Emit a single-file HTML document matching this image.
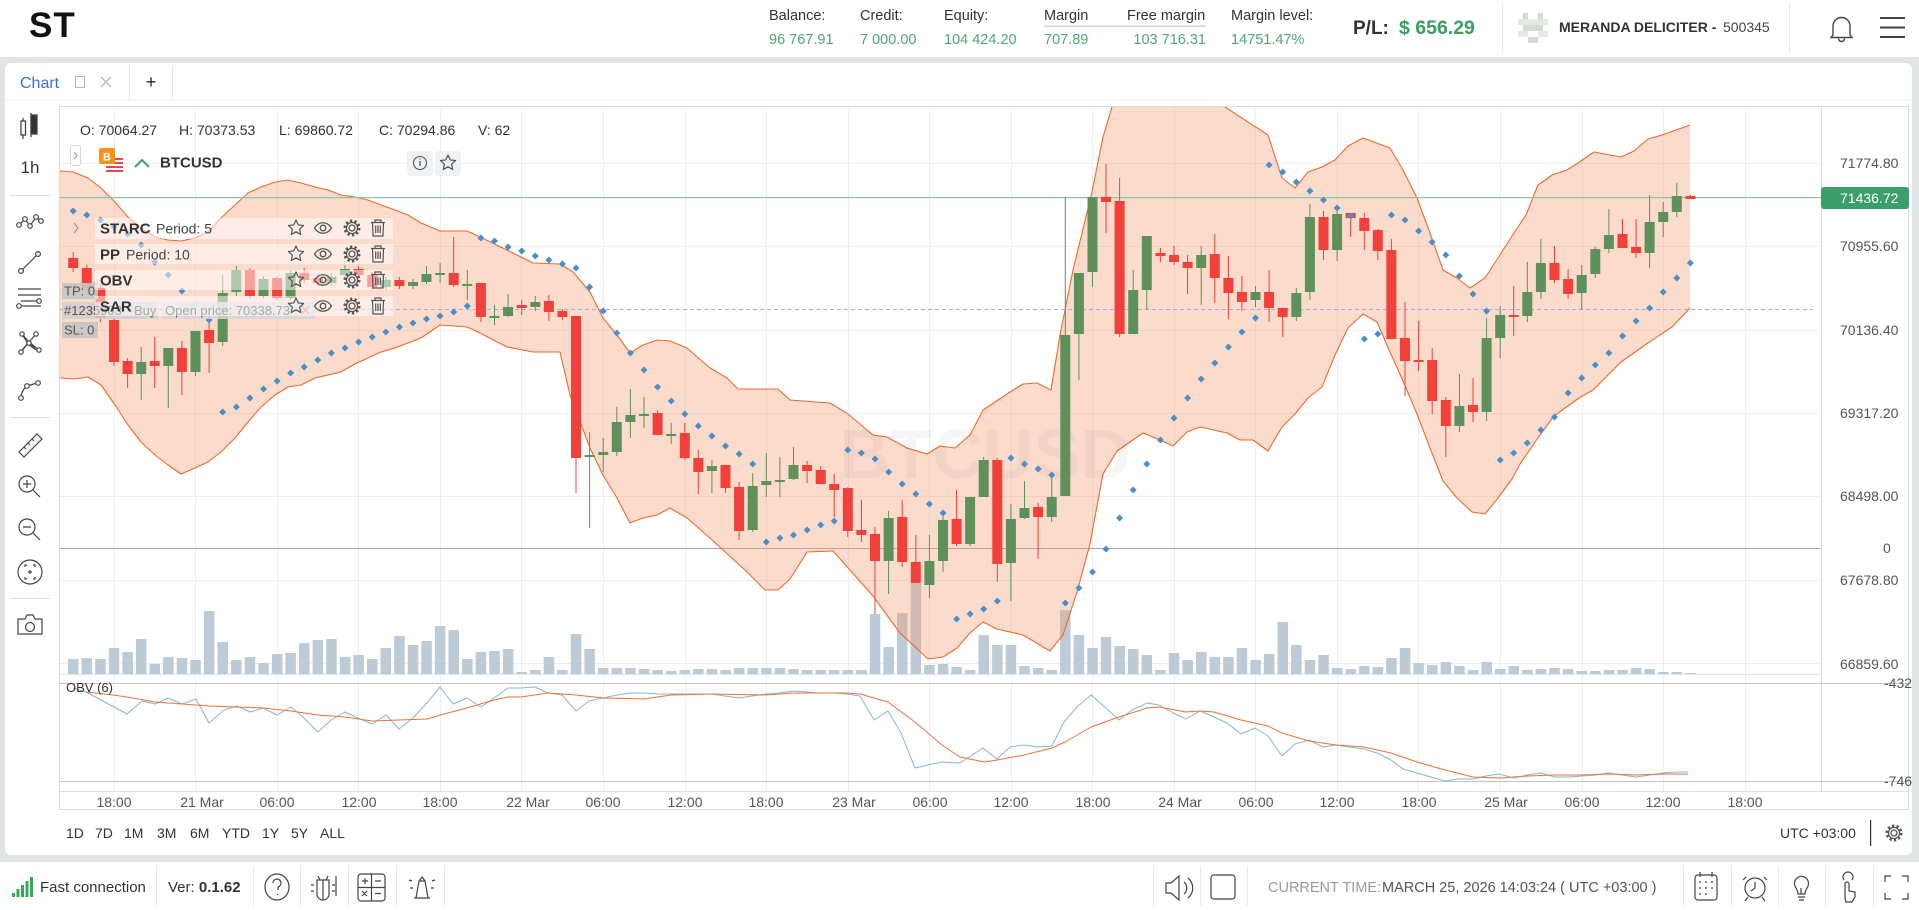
<!DOCTYPE html>
<html><head><meta charset="utf-8"><title>Chart</title>
<style>html,body{margin:0;padding:0;background:#fff;overflow:hidden}svg{display:block}text{font-family:"Liberation Sans",Arial,sans-serif}</style>
</head><body>
<svg xmlns="http://www.w3.org/2000/svg" width="1919" height="910" viewBox="0 0 1919 910">
<defs>
<clipPath id="cp"><rect x="60" y="107" width="1761" height="567"/></clipPath>
<clipPath id="co"><rect x="60" y="683" width="1761" height="98"/></clipPath>
<g id="star"><polygon points="0,-8 2.23,-3.07 7.61,-2.47 3.61,1.17 4.7,6.47 0,3.8 -4.7,6.47 -3.61,1.17 -7.61,-2.47 -2.23,-3.07" fill="none" stroke="#555" stroke-width="1.2" stroke-linejoin="round"/></g>
<g id="eye" fill="none" stroke="#555" stroke-width="1.3"><path d="M-8.5 0C-4 -7 4 -7 8.5 0C4 7 -4 7 -8.5 0Z"/><circle r="2.8"/></g>
<g id="gear" fill="none" stroke="#555" stroke-width="1.3"><circle r="3"/><circle r="7" stroke-width="3" stroke-dasharray="2.2 2.2"/><circle r="5.6"/></g>
<g id="trash" fill="none" stroke="#555" stroke-width="1.2"><path d="M-7 -5.5H7M-3 -5.5V-8H3V-5.5M-5.5 -5.5L-5 8H5L5.5 -5.5M-2.3 -2.5V5M0 -2.5V5M2.3 -2.5V5"/></g>
</defs>
<rect width="1919" height="910" fill="#e0e4e4"/>
<rect width="1919" height="57" fill="#fff"/>
<rect x="5" y="63" width="1907" height="792" rx="6" fill="#fff"/>
<rect y="862" width="1919" height="48" fill="#fff"/>

<!-- HEADER -->
<text x="29" y="37" font-size="35" font-weight="bold" letter-spacing="1" fill="#111">ST</text>
<g font-size="14.5" fill="#333">
<text x="769" y="20">Balance:</text><text x="860" y="20">Credit:</text><text x="944" y="20">Equity:</text><text x="1044" y="20">Margin</text><text x="1127" y="20">Free margin</text><text x="1231" y="20">Margin level:</text>
</g>
<rect x="1044" y="25.5" width="162" height="1.5" fill="#d6d6d6"/>
<g font-size="14.5" fill="#4fa873">
<text x="769" y="44">96 767.91</text><text x="860" y="44">7 000.00</text><text x="944" y="44">104 424.20</text><text x="1044" y="44">707.89</text><text x="1206" y="44" text-anchor="end">103 716.31</text><text x="1231" y="44">14751.47%</text>
</g>
<text x="1353" y="34" font-size="19" font-weight="bold" fill="#333">P/L:</text>
<text x="1399" y="34" font-size="19.5" font-weight="bold" fill="#3d9e60">$ 656.29</text>
<rect x="1502" y="4" width="1" height="48" fill="#e6e6e6"/>
<g fill="#d3dbd3"><rect x="1523" y="13" width="5" height="6"/><rect x="1538" y="13" width="5" height="6"/><rect x="1518" y="19" width="30" height="6" fill="#e4e9e4"/><rect x="1523" y="25" width="20" height="6"/><rect x="1518" y="31" width="10" height="6" fill="#e4e9e4"/><rect x="1538" y="31" width="10" height="6" fill="#e4e9e4"/><rect x="1528" y="37" width="10" height="6"/></g>
<text x="1559" y="32" font-size="14" font-weight="bold" fill="#333">MERANDA DELICITER -</text>
<text x="1723" y="32" font-size="14" fill="#444">500345</text>
<rect x="1789" y="4" width="1" height="48" fill="#e6e6e6"/>
<path d="M1841.5 15.5a2 2 0 0 1 0 0M1833 35V26a8.5 8.5 0 0 1 17 0v9l2 2.5h-21z M1838.5 38.5a3 3 0 0 0 6 0" fill="none" stroke="#444" stroke-width="1.4"/>
<path d="M1880 18H1905M1880 27.5H1905M1880 37H1905" stroke="#444" stroke-width="2"/>

<!-- TAB STRIP -->
<rect x="5" y="99.5" width="1907" height="1" fill="#eceeee"/>
<rect x="129" y="66" width="1" height="34" fill="#e5e7e7"/>
<rect x="172" y="66" width="1" height="34" fill="#e5e7e7"/>
<text x="20" y="88" font-size="16" fill="#3a72d8">Chart</text>
<rect x="75.5" y="76.5" width="9" height="11" fill="none" stroke="#b5b5b5" stroke-width="1"/>
<path d="M101 77L111 87M111 77L101 87" stroke="#b0b0b0" stroke-width="1.2"/>
<text x="151" y="88" font-size="18" fill="#222" text-anchor="middle">+</text>

<!-- LEFT TOOLBAR -->
<g fill="none" stroke="#444" stroke-width="1.3">
<path d="M23 118V139M31 113V137"/><rect x="21" y="121" width="4.5" height="14" fill="#fff"/><rect x="31" y="115" width="6" height="19" fill="#333"/>
</g>
<text x="30" y="173" font-size="17" fill="#333" text-anchor="middle">1h</text>
<g fill="#dedede"><rect x="10" y="195" width="40" height="1"/><rect x="10" y="417" width="40" height="1"/><rect x="10" y="598" width="40" height="1"/></g>
<g fill="#fff" stroke="#444" stroke-width="1.2">
<path d="M19 225L25 219L30 226L36 217L41 221" fill="none"/><circle cx="19" cy="225" r="2.3"/><circle cx="25" cy="219" r="2.3"/><circle cx="30" cy="226" r="2.3"/><circle cx="36" cy="217" r="2.3"/><circle cx="41" cy="221" r="2.3"/>
<path d="M21 271L38 254" fill="none"/><circle cx="21" cy="271" r="2.4"/><circle cx="38" cy="254" r="2.4"/>
<path d="M18 289H41M18 295H41M21 301H37M21 306H41" fill="none"/><circle cx="39" cy="301" r="2.3"/><circle cx="19" cy="306" r="2.3"/>
<path d="M22 334L36 350M36 334L22 350M22 334L28 344L36 350M21 352L29 342L39 350" fill="none"/><circle cx="22" cy="334" r="2.2"/><circle cx="36" cy="334" r="2.2"/><circle cx="29" cy="343" r="2.2"/><circle cx="21" cy="352" r="2.2"/><circle cx="39" cy="350" r="2.2"/>
<path d="M21 397C22 388 27 385 38 383" fill="none"/><circle cx="21" cy="398" r="2.3"/><circle cx="27" cy="386" r="2.3"/><circle cx="38" cy="383" r="2.3"/>
<path d="M19 452L37 434L42 439L24 457Z M24 447l2 2M28 443l2 2M32 439l2 2" fill="none"/>
<circle cx="27" cy="484" r="8" fill="none"/><path d="M33 490L40 497M27 480V488M23 484H31" fill="none"/>
<circle cx="27" cy="527" r="8" fill="none"/><path d="M33 533L40 540M23 527H31" fill="none"/>
<circle cx="30" cy="572" r="12" fill="none"/><path d="M25 567v-2h2M33 565h2v2M35 577v2h-2M27 579h-2v-2M30 570v4M28 572h4" fill="none"/>
<path d="M18 619H25L27 615H33L35 619H42V634H18Z" fill="none"/><circle cx="30" cy="627" r="4.5" fill="none"/>
</g>

<!-- CHART GRID -->
<g fill="#eeeeee">
<rect x="60" y="163" width="1761" height="1"/><rect x="60" y="246" width="1761" height="1"/><rect x="60" y="330" width="1761" height="1"/><rect x="60" y="413" width="1761" height="1"/><rect x="60" y="496" width="1761" height="1"/><rect x="60" y="580" width="1761" height="1"/><rect x="60" y="663" width="1761" height="1"/>
<rect x="114" y="107" width="1" height="684"/><rect x="195" y="107" width="1" height="684"/><rect x="277" y="107" width="1" height="684"/><rect x="358" y="107" width="1" height="684"/><rect x="440" y="107" width="1" height="684"/><rect x="521" y="107" width="1" height="684"/><rect x="603" y="107" width="1" height="684"/><rect x="685" y="107" width="1" height="684"/><rect x="766" y="107" width="1" height="684"/><rect x="848" y="107" width="1" height="684"/><rect x="929" y="107" width="1" height="684"/><rect x="1011" y="107" width="1" height="684"/><rect x="1092" y="107" width="1" height="684"/><rect x="1174" y="107" width="1" height="684"/><rect x="1255" y="107" width="1" height="684"/><rect x="1337" y="107" width="1" height="684"/><rect x="1418" y="107" width="1" height="684"/><rect x="1500" y="107" width="1" height="684"/><rect x="1582" y="107" width="1" height="684"/><rect x="1663" y="107" width="1" height="684"/><rect x="1745" y="107" width="1" height="684"/>
</g>
<rect x="59.5" y="106.5" width="1849" height="703" fill="none" stroke="#dcdcdc" stroke-width="1"/>
<rect x="1821" y="107" width="1" height="684" fill="#dcdcdc"/>
<rect x="60" y="548" width="1761" height="1" fill="#a8a8a8"/>
<rect x="60" y="674" width="1761" height="1" fill="#e4e4e4"/>
<rect x="60" y="683" width="1849" height="1" fill="#c4c4c4"/>
<rect x="60" y="781" width="1849" height="1" fill="#c4c4c4"/>
<rect x="60" y="791" width="1849" height="1" fill="#e0e0e0"/>

<g clip-path="url(#cp)">
<!-- VOLUME -->
<path fill="#bccbd6" d="M68 659h10.5V674h-10.5zM81.6 658h10.5V674h-10.5zM95.2 659h10.5V674h-10.5zM108.8 648h10.5V674h-10.5zM122.4 652h10.5V674h-10.5zM136 639h10.5V674h-10.5zM149.5 664h10.5V674h-10.5zM163.1 657h10.5V674h-10.5zM176.7 658h10.5V674h-10.5zM190.3 660h10.5V674h-10.5zM203.9 611h10.5V674h-10.5zM217.5 642h10.5V674h-10.5zM231.1 660h10.5V674h-10.5zM244.7 657h10.5V674h-10.5zM258.3 663h10.5V674h-10.5zM271.9 654h10.5V674h-10.5zM285.4 653h10.5V674h-10.5zM299 643h10.5V674h-10.5zM312.6 640h10.5V674h-10.5zM326.2 639h10.5V674h-10.5zM339.8 657h10.5V674h-10.5zM353.4 655h10.5V674h-10.5zM367 659h10.5V674h-10.5zM380.6 648h10.5V674h-10.5zM394.2 636h10.5V674h-10.5zM407.8 645h10.5V674h-10.5zM421.3 641h10.5V674h-10.5zM434.9 626h10.5V674h-10.5zM448.5 630h10.5V674h-10.5zM462.1 659h10.5V674h-10.5zM475.7 652h10.5V674h-10.5zM489.3 651h10.5V674h-10.5zM502.9 649h10.5V674h-10.5zM516.5 672h10.5V674h-10.5zM530.1 670h10.5V674h-10.5zM543.7 657h10.5V674h-10.5zM557.2 670h10.5V674h-10.5zM570.8 634h10.5V674h-10.5zM584.4 649h10.5V674h-10.5zM598 668h10.5V674h-10.5zM611.6 668h10.5V674h-10.5zM625.2 668h10.5V674h-10.5zM638.8 669h10.5V674h-10.5zM652.4 670h10.5V674h-10.5zM666 671h10.5V674h-10.5zM679.6 670h10.5V674h-10.5zM693.1 669h10.5V674h-10.5zM706.7 669h10.5V674h-10.5zM720.3 670h10.5V674h-10.5zM733.9 668h10.5V674h-10.5zM747.5 668h10.5V674h-10.5zM761.1 668h10.5V674h-10.5zM774.7 668h10.5V674h-10.5zM788.3 669h10.5V674h-10.5zM801.9 670h10.5V674h-10.5zM815.5 670h10.5V674h-10.5zM829 670h10.5V674h-10.5zM842.6 670h10.5V674h-10.5zM856.2 670h10.5V674h-10.5zM869.8 614h10.5V674h-10.5zM883.4 647h10.5V674h-10.5zM897 613h10.5V674h-10.5zM910.6 583h10.5V674h-10.5zM924.2 665h10.5V674h-10.5zM937.8 664h10.5V674h-10.5zM951.4 667h10.5V674h-10.5zM964.9 670h10.5V674h-10.5zM978.5 635h10.5V674h-10.5zM992.1 645h10.5V674h-10.5zM1005.7 645h10.5V674h-10.5zM1019.3 666h10.5V674h-10.5zM1032.9 668h10.5V674h-10.5zM1046.5 670h10.5V674h-10.5zM1060.1 610h10.5V674h-10.5zM1073.7 635h10.5V674h-10.5zM1087.3 648h10.5V674h-10.5zM1100.8 637h10.5V674h-10.5zM1114.4 646h10.5V674h-10.5zM1128 649h10.5V674h-10.5zM1141.6 655h10.5V674h-10.5zM1155.2 670h10.5V674h-10.5zM1168.8 653h10.5V674h-10.5zM1182.4 660h10.5V674h-10.5zM1196 652h10.5V674h-10.5zM1209.6 657h10.5V674h-10.5zM1223.2 657h10.5V674h-10.5zM1236.7 648h10.5V674h-10.5zM1250.3 660h10.5V674h-10.5zM1263.9 654h10.5V674h-10.5zM1277.5 622h10.5V674h-10.5zM1291.1 645h10.5V674h-10.5zM1304.7 660h10.5V674h-10.5zM1318.3 655h10.5V674h-10.5zM1331.9 668h10.5V674h-10.5zM1345.5 669h10.5V674h-10.5zM1359.1 666h10.5V674h-10.5zM1372.6 667h10.5V674h-10.5zM1386.2 658h10.5V674h-10.5zM1399.8 648h10.5V674h-10.5zM1413.4 663h10.5V674h-10.5zM1427 665h10.5V674h-10.5zM1440.6 662h10.5V674h-10.5zM1454.2 666h10.5V674h-10.5zM1467.8 670h10.5V674h-10.5zM1481.4 662h10.5V674h-10.5zM1495 669h10.5V674h-10.5zM1508.5 666h10.5V674h-10.5zM1522.1 670h10.5V674h-10.5zM1535.7 669h10.5V674h-10.5zM1549.3 668h10.5V674h-10.5zM1562.9 669h10.5V674h-10.5zM1576.5 671h10.5V674h-10.5zM1590.1 671h10.5V674h-10.5zM1603.7 670h10.5V674h-10.5zM1617.3 670h10.5V674h-10.5zM1630.9 668h10.5V674h-10.5zM1644.4 669h10.5V674h-10.5zM1658 672h10.5V674h-10.5zM1671.6 672h10.5V674h-10.5zM1685.2 673h10.5V674h-10.5z"/>

<!-- STARC BAND -->
<path fill="#f59a72" fill-opacity="0.36" d="M60 171L73 172L88 178L101 188L115 202L128 217L141 228L155 237L168 240L181 241L195 238L208 232L221 218L235 205L248 193L261 187L275 182L288 180L301 183L315 187L328 190L341 195L355 197L368 200L381 205L395 210L408 215L421 223L440 231L467 231L480 237L507 250L533 263L560 264L573 272L590 292L603 318L617 335L630 353L643 345L657 340L670 341L687 348L710 368L727 378L738 389L767 389L778 389L790 400L803 401L830 403L848 414L873 435L887 437L907 448L927 454L940 446L955 448L970 435L983 410L1010 392L1023 384L1037 383L1051 390L1060 335L1073 270L1092 192L1103 137L1112 107L1125 60L1200 60L1225 107L1268 135L1282 178L1295 188L1308 172L1322 167L1335 160L1348 146L1363 138L1390 148L1403 170L1417 198L1430 233L1443 270L1457 278L1470 288L1485 278L1498 258L1512 236L1526 215L1538 185L1552 175L1567 170L1581 161L1594 152L1621 157L1634 151L1648 139L1662 135L1676 130L1690 125L1690 308L1672 327L1648 343L1621 362L1593 390L1579 398L1554 416L1540 435L1520 464L1512 479L1498 498L1485 514L1472 512L1457 498L1443 481L1430 448L1417 414L1403 381L1390 352L1377 322L1363 314L1348 328L1335 355L1322 387L1308 398L1295 414L1282 427L1268 451L1253 440L1240 440L1227 433L1200 427L1187 432L1173 446L1160 440L1143 433L1117 451L1103 474L1090 544L1077 592L1063 635L1050 651L1023 635L997 629L983 622L970 633L957 648L943 657L928 659L900 633L873 596L833 551L807 552L790 579L778 590L765 590L745 570L723 550L710 538L687 518L670 508L657 515L643 518L630 523L617 498L603 475L590 448L570 395L560 352L533 352L507 347L480 333L467 327L440 325L421 338L408 343L395 348L381 352L368 358L355 364L341 372L328 375L315 378L301 385L288 387L275 395L261 407L248 422L235 438L221 452L208 462L195 468L181 474L168 465L155 455L141 442L128 425L115 405L101 385L88 377L75 379L60 378Z"/>
<g fill="none" stroke="#ec6a2e" stroke-width="1.1" stroke-linejoin="round">
<polyline points="60,171 73,172 88,178 101,188 115,202 128,217 141,228 155,237 168,240 181,241 195,238 208,232 221,218 235,205 248,193 261,187 275,182 288,180 301,183 315,187 328,190 341,195 355,197 368,200 381,205 395,210 408,215 421,223 440,231 467,231 480,237 507,250 533,263 560,264 573,272 590,292 603,318 617,335 630,353 643,345 657,340 670,341 687,348 710,368 727,378 738,389 767,389 778,389 790,400 803,401 830,403 848,414 873,435 887,437 907,448 927,454 940,446 955,448 970,435 983,410 1010,392 1023,384 1037,383 1051,390 1060,335 1073,270 1092,192 1103,137 1112,107 1125,60 1200,60 1225,107 1268,135 1282,178 1295,188 1308,172 1322,167 1335,160 1348,146 1363,138 1390,148 1403,170 1417,198 1430,233 1443,270 1457,278 1470,288 1485,278 1498,258 1512,236 1526,215 1538,185 1552,175 1567,170 1581,161 1594,152 1621,157 1634,151 1648,139 1662,135 1676,130 1690,125"/>
<polyline points="60,378 75,379 88,377 101,385 115,405 128,425 141,442 155,455 168,465 181,474 195,468 208,462 221,452 235,438 248,422 261,407 275,395 288,387 301,385 315,378 328,375 341,372 355,364 368,358 381,352 395,348 408,343 421,338 440,325 467,327 480,333 507,347 533,352 560,352 570,395 590,448 603,475 617,498 630,523 643,518 657,515 670,508 687,518 710,538 723,550 745,570 765,590 778,590 790,579 807,552 833,551 873,596 900,633 928,659 943,657 957,648 970,633 983,622 997,629 1023,635 1050,651 1063,635 1077,592 1090,544 1103,474 1117,451 1143,433 1160,440 1173,446 1187,432 1200,427 1227,433 1240,440 1253,440 1268,451 1282,427 1295,414 1308,398 1322,387 1335,355 1348,328 1363,314 1377,322 1390,352 1403,381 1417,414 1430,448 1443,481 1457,498 1472,512 1485,514 1498,498 1512,479 1520,464 1540,435 1554,416 1579,398 1593,390 1621,362 1648,343 1672,327 1690,308"/>
</g>
<text x="985" y="478" font-size="70" font-weight="bold" fill="#000" fill-opacity="0.035" text-anchor="middle">BTCUSD</text>
<!-- price lines -->
<rect x="60" y="197" width="1761" height="1.2" fill="#8fc3a6"/>
<path d="M60 309.5H1813" stroke="#a9a9ef" stroke-width="1" stroke-dasharray="4 3"/>

<!-- CANDLES -->
<path fill="none" stroke="#f2403b" stroke-width="1" d="M73.2 252V272M86.8 265V292M100.4 284V322M114 318V366M127.6 358V388M154.7 337V388M181.9 341V395M209.1 318V373M249.9 268V298M277.1 276V300M304.2 268V283M317.8 274V286M358.6 266V278M372.2 272V290M399.4 277V289M453.7 237V287M480.9 283V322M521.7 300V315M548.9 295V321M562.4 309V320M576 316V493M657.6 410V435M684.8 423V460M698.3 450V494M725.5 465V493M739.1 482V540M807.1 461V483M820.7 466V484M834.2 474V517M847.8 487V537M861.4 500V542M875 527V614M902.2 500V567M915.8 535V583M956.6 490V546M997.3 458V582M1038.1 503V559M1106 164V233M1119.6 178V337M1160.4 248V262M1174 246V265M1187.6 255V294M1214.8 234V303M1228.4 256V319M1241.9 276V311M1269.1 270V322M1282.7 308V337M1323.5 211V260M1350.7 213V237M1364.3 213V250M1377.8 229V260M1391.4 239V339M1405 302V396M1418.6 321V371M1432.2 348V414M1445.8 397V457M1473 378V422M1513.7 286V336M1554.5 246V283M1568.1 269V299M1622.5 219V248M1636.1 219V258M1690.4 195V199"/>
<path fill="#f2403b" d="M68.2 258h10v10h-10zM81.8 268h10v20h-10zM95.4 288h10v30h-10zM109 320h10v42h-10zM122.6 361h10v13h-10zM149.7 361h10v5h-10zM176.9 348h10v24h-10zM204.1 330h10v13h-10zM244.9 270h10v26h-10zM272.1 278h10v20h-10zM299.2 273h10v7h-10zM312.8 278h10v5h-10zM353.6 269h10v6h-10zM367.2 275h10v12h-10zM394.4 280h10v6h-10zM448.7 273h10v12h-10zM475.9 283h10v34h-10zM516.7 305h10v3h-10zM543.9 301h10v11h-10zM557.4 311h10v6h-10zM571 316h10v142h-10zM652.6 413h10v22h-10zM679.8 433h10v25h-10zM693.3 458h10v14h-10zM720.5 465h10v23h-10zM734.1 487h10v44h-10zM802.1 465h10v6h-10zM815.7 470h10v14h-10zM829.2 484h10v6h-10zM842.8 488h10v43h-10zM856.4 530h10v5h-10zM870 534h10v27h-10zM897.2 517h10v45h-10zM910.8 562h10v21h-10zM951.6 519h10v25h-10zM992.3 460h10v104h-10zM1033.1 507h10v10h-10zM1101 197h10v5h-10zM1114.6 201h10v133h-10zM1155.4 253h10v3h-10zM1169 255h10v7h-10zM1182.6 262h10v6h-10zM1209.8 254h10v24h-10zM1223.4 278h10v15h-10zM1236.9 292h10v10h-10zM1264.1 292h10v16h-10zM1277.7 308h10v9h-10zM1318.5 217h10v33h-10zM1345.7 213h10v5h-10zM1359.3 218h10v13h-10zM1372.8 230h10v21h-10zM1386.4 250h10v89h-10zM1400 338h10v23h-10zM1413.6 360h10v2h-10zM1427.2 360h10v41h-10zM1440.8 400h10v26h-10zM1468 405h10v7h-10zM1508.7 315h10v2h-10zM1549.5 263h10v17h-10zM1563.1 279h10v15h-10zM1617.5 234h10v14h-10zM1631.1 247h10v6h-10zM1685.4 196h10v3h-10z"/>
<path fill="none" stroke="#5e9159" stroke-width="1" d="M141.2 347V400M168.3 348V408M195.5 331V376M222.7 275V346M236.3 266V296M263.5 276V298M290.6 270V300M331.4 273V286M345 265V278M385.8 277V290M413 279V289M426.5 266V284M440.1 263V283M467.3 270V300M494.5 305V325M508.1 294V317M535.3 296V311M589.6 432V528M603.2 438V472M616.8 407V456M630.4 389V438M644 397V428M671.2 423V444M711.9 460V493M752.7 473V532M766.3 453V497M779.9 457V497M793.5 447V480M888.6 511V594M929.4 535V598M943 514V572M970.1 497V546M983.7 457V497M1010.9 504V601M1024.5 481V519M1051.7 475V522M1065.3 197V496M1078.9 273V380M1092.5 197V287M1133.2 270V334M1146.8 236V310M1201.2 246V305M1255.5 286V307M1296.3 288V321M1309.9 204V300M1337.1 211V261M1459.4 374V432M1486.6 318V421M1500.2 306V358M1527.3 262V322M1540.9 239V299M1581.7 265V310M1595.3 247V278M1608.9 209V253M1649.6 195V268M1663.2 202V237M1676.8 183V217"/>
<path fill="#5e9159" d="M136.2 362h10v12h-10zM163.3 348h10v18h-10zM190.5 331h10v41h-10zM217.7 293h10v49h-10zM231.3 270h10v22h-10zM258.5 279h10v17h-10zM285.6 273h10v25h-10zM326.4 277h10v6h-10zM340 269h10v6h-10zM380.8 280h10v7h-10zM408 282h10v4h-10zM421.5 274h10v8h-10zM435.1 273h10v2h-10zM462.3 284h10v2h-10zM489.5 316h10v2h-10zM503.1 307h10v9h-10zM530.3 302h10v5h-10zM584.6 455h10v2h-10zM598.2 452h10v3h-10zM611.8 422h10v30h-10zM625.4 415h10v7h-10zM639 414h10v2h-10zM666.2 434h10v2h-10zM706.9 466h10v5h-10zM747.7 486h10v44h-10zM761.3 481h10v4h-10zM774.9 480h10v2h-10zM788.5 465h10v14h-10zM883.6 518h10v43h-10zM924.4 561h10v24h-10zM938 520h10v41h-10zM965.1 497h10v47h-10zM978.7 460h10v37h-10zM1005.9 519h10v44h-10zM1019.5 508h10v10h-10zM1046.7 497h10v20h-10zM1060.3 335h10v161h-10zM1073.9 273h10v61h-10zM1087.5 197h10v75h-10zM1128.2 290h10v44h-10zM1141.8 236h10v54h-10zM1196.2 255h10v13h-10zM1250.5 292h10v8h-10zM1291.3 293h10v24h-10zM1304.9 217h10v75h-10zM1332.1 214h10v36h-10zM1454.4 406h10v20h-10zM1481.6 338h10v74h-10zM1495.2 315h10v23h-10zM1522.3 292h10v24h-10zM1535.9 263h10v29h-10zM1576.7 275h10v18h-10zM1590.3 249h10v25h-10zM1603.9 235h10v14h-10zM1644.6 222h10v31h-10zM1658.2 212h10v10h-10zM1671.8 196h10v16h-10z"/>

<!-- SAR -->
<path fill="#4a8fc8" d="M73.2 207.5l3.5 3.5-3.5 3.5-3.5-3.5zM86.8 211.5l3.5 3.5-3.5 3.5-3.5-3.5zM100.4 216.5l3.5 3.5-3.5 3.5-3.5-3.5zM114 223.5l3.5 3.5-3.5 3.5-3.5-3.5zM127.6 230.5l3.5 3.5-3.5 3.5-3.5-3.5zM141.2 241.5l3.5 3.5-3.5 3.5-3.5-3.5zM154.7 258.5l3.5 3.5-3.5 3.5-3.5-3.5zM168.3 271.5l3.5 3.5-3.5 3.5-3.5-3.5zM181.9 287.5l3.5 3.5-3.5 3.5-3.5-3.5zM195.5 301.5l3.5 3.5-3.5 3.5-3.5-3.5zM209.1 316.5l3.5 3.5-3.5 3.5-3.5-3.5zM222.7 408.5l3.5 3.5-3.5 3.5-3.5-3.5zM236.3 403.5l3.5 3.5-3.5 3.5-3.5-3.5zM249.9 394.5l3.5 3.5-3.5 3.5-3.5-3.5zM263.5 385.5l3.5 3.5-3.5 3.5-3.5-3.5zM277.1 377.5l3.5 3.5-3.5 3.5-3.5-3.5zM290.6 369.5l3.5 3.5-3.5 3.5-3.5-3.5zM304.2 363.5l3.5 3.5-3.5 3.5-3.5-3.5zM317.8 356.5l3.5 3.5-3.5 3.5-3.5-3.5zM331.4 349.5l3.5 3.5-3.5 3.5-3.5-3.5zM345 344.5l3.5 3.5-3.5 3.5-3.5-3.5zM358.6 338.5l3.5 3.5-3.5 3.5-3.5-3.5zM372.2 333.5l3.5 3.5-3.5 3.5-3.5-3.5zM385.8 328.5l3.5 3.5-3.5 3.5-3.5-3.5zM399.4 323.5l3.5 3.5-3.5 3.5-3.5-3.5zM413 319.5l3.5 3.5-3.5 3.5-3.5-3.5zM426.5 315.5l3.5 3.5-3.5 3.5-3.5-3.5zM440.1 312.5l3.5 3.5-3.5 3.5-3.5-3.5zM453.7 308.5l3.5 3.5-3.5 3.5-3.5-3.5zM467.3 302.5l3.5 3.5-3.5 3.5-3.5-3.5zM480.9 234.5l3.5 3.5-3.5 3.5-3.5-3.5zM494.5 237.5l3.5 3.5-3.5 3.5-3.5-3.5zM508.1 243.5l3.5 3.5-3.5 3.5-3.5-3.5zM521.7 247.5l3.5 3.5-3.5 3.5-3.5-3.5zM535.3 252.5l3.5 3.5-3.5 3.5-3.5-3.5zM548.9 256.5l3.5 3.5-3.5 3.5-3.5-3.5zM562.4 260.5l3.5 3.5-3.5 3.5-3.5-3.5zM576 264.5l3.5 3.5-3.5 3.5-3.5-3.5zM589.6 283.5l3.5 3.5-3.5 3.5-3.5-3.5zM603.2 307.5l3.5 3.5-3.5 3.5-3.5-3.5zM616.8 329.5l3.5 3.5-3.5 3.5-3.5-3.5zM630.4 349.5l3.5 3.5-3.5 3.5-3.5-3.5zM644 366.5l3.5 3.5-3.5 3.5-3.5-3.5zM657.6 383.5l3.5 3.5-3.5 3.5-3.5-3.5zM671.2 397.5l3.5 3.5-3.5 3.5-3.5-3.5zM684.8 410.5l3.5 3.5-3.5 3.5-3.5-3.5zM698.3 422.5l3.5 3.5-3.5 3.5-3.5-3.5zM711.9 432.5l3.5 3.5-3.5 3.5-3.5-3.5zM725.5 442.5l3.5 3.5-3.5 3.5-3.5-3.5zM739.1 450.5l3.5 3.5-3.5 3.5-3.5-3.5zM752.7 460.5l3.5 3.5-3.5 3.5-3.5-3.5zM766.3 538.5l3.5 3.5-3.5 3.5-3.5-3.5zM779.9 534.5l3.5 3.5-3.5 3.5-3.5-3.5zM793.5 531.5l3.5 3.5-3.5 3.5-3.5-3.5zM807.1 526.5l3.5 3.5-3.5 3.5-3.5-3.5zM820.7 521.5l3.5 3.5-3.5 3.5-3.5-3.5zM834.2 517.5l3.5 3.5-3.5 3.5-3.5-3.5zM847.8 446.5l3.5 3.5-3.5 3.5-3.5-3.5zM861.4 449.5l3.5 3.5-3.5 3.5-3.5-3.5zM875 455.5l3.5 3.5-3.5 3.5-3.5-3.5zM888.6 468.5l3.5 3.5-3.5 3.5-3.5-3.5zM902.2 480.5l3.5 3.5-3.5 3.5-3.5-3.5zM915.8 490.5l3.5 3.5-3.5 3.5-3.5-3.5zM929.4 500.5l3.5 3.5-3.5 3.5-3.5-3.5zM943 509.5l3.5 3.5-3.5 3.5-3.5-3.5zM956.6 615.5l3.5 3.5-3.5 3.5-3.5-3.5zM970.1 610.5l3.5 3.5-3.5 3.5-3.5-3.5zM983.7 605.5l3.5 3.5-3.5 3.5-3.5-3.5zM997.3 597.5l3.5 3.5-3.5 3.5-3.5-3.5zM1010.9 454.5l3.5 3.5-3.5 3.5-3.5-3.5zM1024.5 460.5l3.5 3.5-3.5 3.5-3.5-3.5zM1038.1 465.5l3.5 3.5-3.5 3.5-3.5-3.5zM1051.7 471.5l3.5 3.5-3.5 3.5-3.5-3.5zM1065.3 599.5l3.5 3.5-3.5 3.5-3.5-3.5zM1078.9 584.5l3.5 3.5-3.5 3.5-3.5-3.5zM1092.5 568.5l3.5 3.5-3.5 3.5-3.5-3.5zM1106 545.5l3.5 3.5-3.5 3.5-3.5-3.5zM1119.6 514.5l3.5 3.5-3.5 3.5-3.5-3.5zM1133.2 486.5l3.5 3.5-3.5 3.5-3.5-3.5zM1146.8 460.5l3.5 3.5-3.5 3.5-3.5-3.5zM1160.4 436.5l3.5 3.5-3.5 3.5-3.5-3.5zM1174 414.5l3.5 3.5-3.5 3.5-3.5-3.5zM1187.6 394.5l3.5 3.5-3.5 3.5-3.5-3.5zM1201.2 375.5l3.5 3.5-3.5 3.5-3.5-3.5zM1214.8 359.5l3.5 3.5-3.5 3.5-3.5-3.5zM1228.4 343.5l3.5 3.5-3.5 3.5-3.5-3.5zM1241.9 328.5l3.5 3.5-3.5 3.5-3.5-3.5zM1255.5 314.5l3.5 3.5-3.5 3.5-3.5-3.5zM1269.1 161.5l3.5 3.5-3.5 3.5-3.5-3.5zM1282.7 168.5l3.5 3.5-3.5 3.5-3.5-3.5zM1296.3 178.5l3.5 3.5-3.5 3.5-3.5-3.5zM1309.9 187.5l3.5 3.5-3.5 3.5-3.5-3.5zM1323.5 196.5l3.5 3.5-3.5 3.5-3.5-3.5zM1337.1 204.5l3.5 3.5-3.5 3.5-3.5-3.5zM1350.7 212.5l3.5 3.5-3.5 3.5-3.5-3.5zM1364.3 335.5l3.5 3.5-3.5 3.5-3.5-3.5zM1377.8 330.5l3.5 3.5-3.5 3.5-3.5-3.5zM1391.4 211.5l3.5 3.5-3.5 3.5-3.5-3.5zM1405 216.5l3.5 3.5-3.5 3.5-3.5-3.5zM1418.6 227.5l3.5 3.5-3.5 3.5-3.5-3.5zM1432.2 238.5l3.5 3.5-3.5 3.5-3.5-3.5zM1445.8 251.5l3.5 3.5-3.5 3.5-3.5-3.5zM1459.4 272.5l3.5 3.5-3.5 3.5-3.5-3.5zM1473 290.5l3.5 3.5-3.5 3.5-3.5-3.5zM1486.6 307.5l3.5 3.5-3.5 3.5-3.5-3.5zM1500.2 456.5l3.5 3.5-3.5 3.5-3.5-3.5zM1513.7 449.5l3.5 3.5-3.5 3.5-3.5-3.5zM1527.3 439.5l3.5 3.5-3.5 3.5-3.5-3.5zM1540.9 426.5l3.5 3.5-3.5 3.5-3.5-3.5zM1554.5 413.5l3.5 3.5-3.5 3.5-3.5-3.5zM1568.1 389.5l3.5 3.5-3.5 3.5-3.5-3.5zM1581.7 374.5l3.5 3.5-3.5 3.5-3.5-3.5zM1595.3 361.5l3.5 3.5-3.5 3.5-3.5-3.5zM1608.9 349.5l3.5 3.5-3.5 3.5-3.5-3.5zM1622.5 332.5l3.5 3.5-3.5 3.5-3.5-3.5zM1636.1 317.5l3.5 3.5-3.5 3.5-3.5-3.5zM1649.6 304.5l3.5 3.5-3.5 3.5-3.5-3.5zM1663.2 288.5l3.5 3.5-3.5 3.5-3.5-3.5zM1676.8 274.5l3.5 3.5-3.5 3.5-3.5-3.5zM1690.4 259.5l3.5 3.5-3.5 3.5-3.5-3.5z"/>
</g>

<!-- OBV PANE -->
<g clip-path="url(#co)" fill="none" stroke-width="1" stroke-linejoin="round">
<polyline stroke="#86b6d6" points="73,688 86,692 101,700 127,714 142,701 155,704 168,698 182,704 196,699 209,723 224,710 237,706 250,712 263,708 277,715 291,707 304,718 318,732 331,720 345,712 358,718 372,724 386,715 399,729 413,718 427,703 440,687 453,704 467,698 481,707 494,698 508,688 521,688 535,687 548,693 562,695 576,711 589,701 603,698 617,695 630,693 644,693 657,694 671,694 684,694 698,694 712,694 725,696 739,698 752,696 766,694 780,693 793,691 807,692 820,693 833,693 847,694 860,696 874,720 888,711 901,733 915,768 928,765 942,762 960,763 983,748 997,759 1010,747 1024,745 1038,747 1052,746 1064,722 1077,707 1091,695 1106,708 1119,720 1132,710 1147,703 1159,705 1173,713 1186,719 1200,711 1214,717 1227,723 1241,734 1255,728 1268,736 1282,756 1295,744 1309,740 1323,747 1336,745 1350,747 1364,749 1377,753 1391,760 1403,769 1417,773 1431,777 1445,781 1458,779 1473,779 1486,776 1499,774 1514,778 1527,775 1541,773 1555,777 1569,777 1582,776 1596,775 1608,773 1622,775 1636,777 1650,775 1663,773 1677,772 1688,772"/>
<polyline stroke="#e8743c" points="86,692 113,695 127,697 155,702 182,704 209,706 237,707 263,708 291,711 318,715 345,717 372,721 399,720 427,719 440,715 467,708 494,700 508,697 521,697 548,693 576,695 603,698 644,699 671,695 712,694 766,695 793,693 847,693 860,694 888,702 915,722 942,745 960,757 984,762 997,760 1024,755 1052,748 1065,742 1091,727 1119,717 1147,708 1159,707 1186,712 1200,711 1214,712 1241,720 1268,726 1282,733 1309,741 1336,745 1364,747 1391,753 1417,762 1445,770 1473,777 1499,778 1527,776 1555,775 1582,775 1608,774 1636,775 1663,774 1688,774"/>
</g>
<text x="66" y="692" font-size="13" fill="#333">OBV (6)</text>

<!-- RIGHT AXIS -->
<g font-size="14" fill="#555">
<text x="1840" y="168">71774.80</text><text x="1840" y="251">70955.60</text><text x="1840" y="335">70136.40</text><text x="1840" y="418">69317.20</text><text x="1840" y="501">68498.00</text><text x="1840" y="585">67678.80</text><text x="1840" y="669">66859.60</text>
<text x="1883" y="553">0</text><text x="1884" y="688">-432</text><text x="1884" y="786">-746</text>
</g>
<rect x="1821" y="187" width="88" height="22" rx="3" fill="#3c9e6b"/>
<text x="1840" y="203" font-size="14" fill="#fff">71436.72</text>

<!-- TIME AXIS -->
<g font-size="14" fill="#555" text-anchor="middle">
<text x="114" y="807">18:00</text><text x="202" y="807">21 Mar</text><text x="277" y="807">06:00</text><text x="359" y="807">12:00</text><text x="440" y="807">18:00</text><text x="528" y="807">22 Mar</text><text x="603" y="807">06:00</text><text x="685" y="807">12:00</text><text x="766" y="807">18:00</text><text x="854" y="807">23 Mar</text><text x="930" y="807">06:00</text><text x="1011" y="807">12:00</text><text x="1093" y="807">18:00</text><text x="1180" y="807">24 Mar</text><text x="1256" y="807">06:00</text><text x="1337" y="807">12:00</text><text x="1419" y="807">18:00</text><text x="1506" y="807">25 Mar</text><text x="1582" y="807">06:00</text><text x="1663" y="807">12:00</text><text x="1745" y="807">18:00</text>
</g>

<!-- OHLC / SYMBOL -->
<g font-size="14" fill="#333">
<text x="80" y="135">O: 70064.27</text><text x="179" y="135">H: 70373.53</text><text x="279" y="135">L:  69860.72</text><text x="379" y="135">C: 70294.86</text><text x="478" y="135">V: 62</text>
</g>
<rect x="70.5" y="145.5" width="10" height="20" rx="2" fill="#fff" stroke="#d8d8d8"/>
<path d="M74 152l3 3.5-3 3.5" fill="none" stroke="#999" stroke-width="1"/>
<rect x="106" y="157" width="17" height="15" fill="#fff"/>
<path d="M106 159h17M106 163h17M106 167h17M106 171h17" stroke="#e4474b" stroke-width="2"/>
<rect x="106" y="157" width="8" height="7" fill="#5a6fb0"/>
<rect x="99" y="148" width="16" height="16" rx="2" fill="#f7931a"/>
<text x="107" y="160.5" font-size="11" font-weight="bold" fill="#fff" text-anchor="middle">B</text>
<path d="M135 167l7-7 7 7" fill="none" stroke="#3c9e6b" stroke-width="2"/>
<text x="160" y="167.5" font-size="15" font-weight="bold" fill="#333">BTCUSD</text>
<rect x="407" y="151" width="26" height="25" rx="4" fill="#eef2f4"/><rect x="435" y="151" width="26" height="25" rx="4" fill="#eef2f4"/>
<circle cx="420" cy="163" r="6.5" fill="none" stroke="#555" stroke-width="1.1"/><path d="M420 161v5M420 158.5v1" stroke="#555" stroke-width="1.3"/>
<use href="#star" x="448" y="163"/>

<!-- ORDER LABELS -->
<rect x="62" y="283" width="36" height="16" fill="#c4c4c4" fill-opacity="0.9"/>
<rect x="62" y="302" width="96" height="17" fill="#cfcfcf" fill-opacity="0.85"/>
<rect x="162" y="302" width="153" height="17" fill="#d6d6d6" fill-opacity="0.85"/>
<rect x="62" y="322" width="36" height="16" fill="#c4c4c4" fill-opacity="0.9"/>
<g font-size="13" fill="#555">
<text x="64" y="295.5">TP: 0</text><text x="64" y="315">#1235903</text><text x="134" y="315">Buy</text><text x="165" y="315">Open price: 70338.73</text><text x="64" y="334.5">SL: 0</text>
</g>
<path d="M302 306l7 8M309 306l-7 8" stroke="#f08080" stroke-width="1.4"/>

<!-- INDICATOR LEGEND -->
<g fill="#fff" fill-opacity="0.5">
<rect x="95" y="218" width="298" height="21"/><rect x="95" y="244" width="298" height="20"/><rect x="95" y="270" width="298" height="20"/><rect x="95" y="296" width="298" height="20"/>
</g>
<path d="M74 223l4 5-4 5" fill="none" stroke="#888" stroke-width="1"/>
<g fill="#333">
<text x="100" y="233.5" font-size="15" font-weight="bold">STARC</text><text x="156" y="233.5" font-size="14" fill="#444">Period: 5</text>
<text x="100" y="259.5" font-size="15" font-weight="bold">PP</text><text x="126" y="259.5" font-size="14" fill="#444">Period: 10</text>
<text x="100" y="285.5" font-size="15" font-weight="bold">OBV</text>
<text x="100" y="311.5" font-size="15" font-weight="bold">SAR</text>
</g>
<use href="#star" x="296" y="228"/><use href="#eye" x="323" y="228"/><use href="#gear" x="352" y="228"/><use href="#trash" x="378" y="228"/>
<use href="#star" x="296" y="254"/><use href="#eye" x="323" y="254"/><use href="#gear" x="352" y="254"/><use href="#trash" x="378" y="254"/>
<use href="#star" x="296" y="280"/><use href="#eye" x="323" y="280"/><use href="#gear" x="352" y="280"/><use href="#trash" x="378" y="280"/>
<use href="#star" x="296" y="306"/><use href="#eye" x="323" y="306"/><use href="#gear" x="352" y="306"/><use href="#trash" x="378" y="306"/>

<!-- RANGE BUTTONS -->
<g font-size="14" fill="#333">
<text x="66" y="838">1D</text><text x="95" y="838">7D</text><text x="124" y="838">1M</text><text x="157" y="838">3M</text><text x="190" y="838">6M</text><text x="222" y="838">YTD</text><text x="262" y="838">1Y</text><text x="291" y="838">5Y</text><text x="320" y="838">ALL</text>
</g>
<text x="1780" y="838" font-size="14" fill="#333">UTC +03:00</text>
<rect x="1870" y="820" width="1.2" height="26" fill="#333"/>
<use href="#gear" x="1894" y="833"/>

<!-- STATUS BAR -->
<g fill="#3aa85a"><rect x="12" y="893" width="3" height="4"/><rect x="16.5" y="889" width="3" height="8"/><rect x="21" y="885" width="3" height="12"/><rect x="25.5" y="881" width="3" height="16"/><rect x="30" y="877" width="3" height="20"/></g>
<text x="40" y="892" font-size="15" fill="#333">Fast connection</text>
<g fill="#e8e8e8"><rect x="156" y="866" width="1" height="40"/><rect x="253" y="866" width="1" height="40"/><rect x="300" y="866" width="1" height="40"/><rect x="348" y="866" width="1" height="40"/><rect x="396" y="866" width="1" height="40"/><rect x="444" y="866" width="1" height="40"/><rect x="1153" y="866" width="1" height="40"/><rect x="1200" y="866" width="1" height="40"/><rect x="1247" y="866" width="1" height="40"/><rect x="1683" y="866" width="1" height="40"/><rect x="1731" y="866" width="1" height="40"/><rect x="1778" y="866" width="1" height="40"/><rect x="1825" y="866" width="1" height="40"/><rect x="1873" y="866" width="1" height="40"/></g>
<text x="168" y="892" font-size="15" fill="#333">Ver: <tspan font-weight="bold">0.1.62</tspan></text>
<g fill="none" stroke="#444" stroke-width="1.2">
<ellipse cx="277" cy="887" rx="12" ry="13"/><path d="M273 883a4 4 0 1 1 5 4v3M277.5 894v1"/>
<path d="M317 880h12v14a6 6 0 0 1-12 0zM314 885h-3M314 891h-3M332 885h3M332 891h3M320 880l-2-4M326 880l2-4M323 880v20"/><path d="M336 876v20"/>
<rect x="358" y="874" width="27" height="27" rx="3"/><path d="M371.5 874v27M358 887.5h27M362 881h6M365 878v6M375 881h6M362 891l5 5M367 891l-5 5M375 893.5h6M378 891v0.1M378 896v0.1"/>
<path d="M416 898l3-17h6l3 17zM414 898h16M419 881l3-4 3 4M409 880l3 1M435 880l-3 1M410 888h3M434 888h-3"/>
<path d="M1166 883h5l8-7v24l-8-7h-5zM1184 882a8 8 0 0 1 0 12M1188 878a13 13 0 0 1 0 20"/>
<rect x="1211" y="875" width="24" height="24" rx="3"/>
<rect x="1695" y="875" width="22" height="25" rx="3"/><path d="M1700 872v5M1712 872v5M1699 882h2M1705 882h2M1711 882h2M1699 888h2M1705 888h2M1711 888h2M1699 894h2M1705 894h2"/>
<circle cx="1755" cy="888" r="10"/><path d="M1755 882v6l-4 3M1746 877l-3 3M1764 877l3 3M1748 897l-3 4M1762 897l3 4"/>
<path d="M1795 886a7 7 0 1 1 13 0c-1 3-3 4-3 8h-7c0-4-2-5-3-8zM1798 897h7M1799 900h5M1801 888v6"/>
<path d="M1845 898v-14a2 2 0 0 1 4 0v7l6 1v5l-3 5h-6zM1844 880a5 5 0 1 1 8 0"/>
<path d="M1885 882v-6h6M1902 876h6v6M1908 893v6h-6M1891 899h-6v-6"/>
</g>
<text x="1268" y="892" font-size="14.5" fill="#9a9a9a">CURRENT TIME:</text>
<text x="1382" y="892" font-size="14.5" fill="#555">MARCH 25, 2026 14:03:24 ( UTC +03:00 )</text>
</svg>
</body></html>
